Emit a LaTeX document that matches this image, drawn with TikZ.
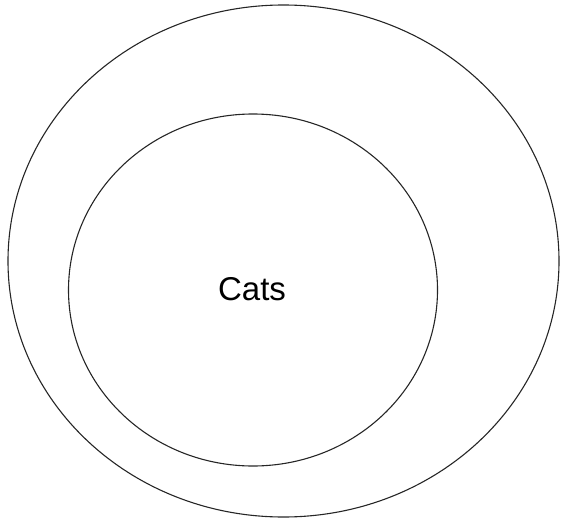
\documentclass[tikz,border=0pt]{standalone}
\usepackage{fontspec}
\setmainfont{Liberation Sans}
\begin{document}
\begin{tikzpicture}[x=1pt,y=-1pt,
  ring/.style={draw=black!85, line width=1.1pt}]
\useasboundingbox (0,0) rectangle (561,521);
\draw[ring] (283.5,261) ellipse [x radius=275.5, y radius=256];
\draw[ring] (253,290) ellipse [x radius=184.5, y radius=176];
\node (cats) at (252,289.5) {\fontsize{33}{38}\selectfont Cats};
\end{tikzpicture}
\end{document}
